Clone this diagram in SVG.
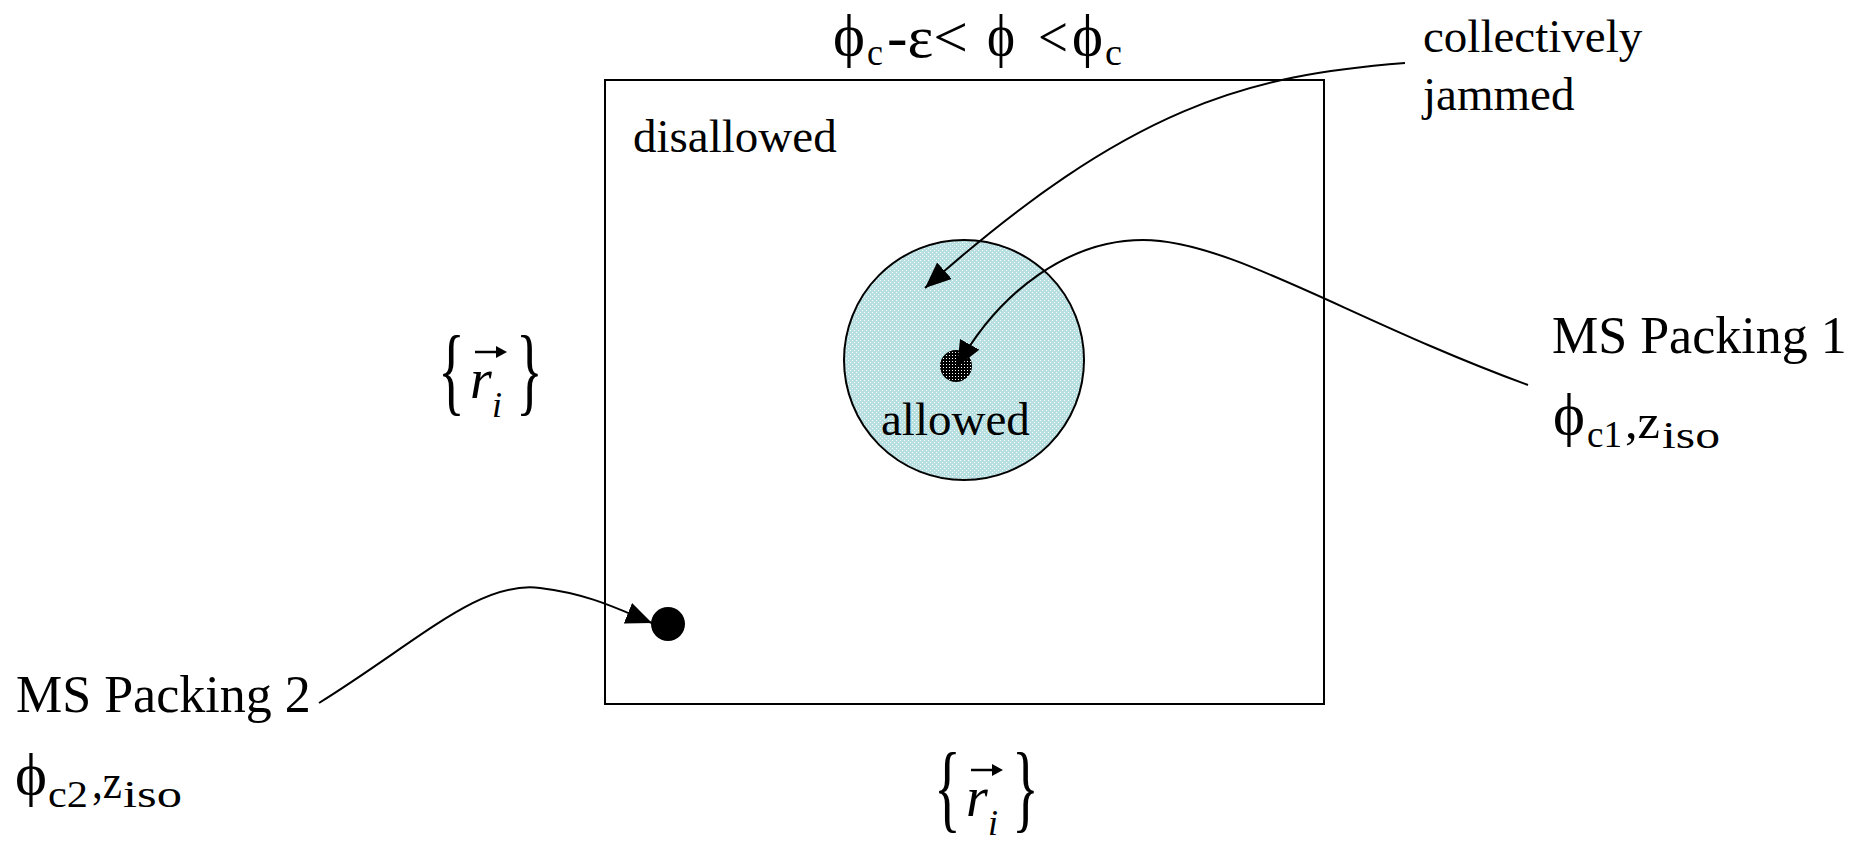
<svg xmlns="http://www.w3.org/2000/svg" width="1867" height="841" viewBox="0 0 1867 841">
<style>
text{font-family:"Liberation Serif","DejaVu Serif",serif;fill:#000}
.t47{font-size:47px}
.t52{font-size:52px}
.phi{font-size:60px}
.sub{font-size:38px}
.big{font-size:60px}
.zz{font-size:48px}
.it{font-style:italic}
.conn{fill:none;stroke:#000;stroke-width:2}
</style>
<defs>
<pattern id="cyan" width="4" height="4" patternUnits="userSpaceOnUse">
<rect width="4" height="4" fill="#b7dfe1"/>
<rect x="0" y="0" width="1" height="1" fill="#ffffff"/>
<rect x="2" y="2" width="1" height="1" fill="#ffffff"/>
</pattern>
<pattern id="dark" width="3" height="3" patternUnits="userSpaceOnUse">
<rect width="3" height="3" fill="#000"/>
<rect x="1" y="1" width="1" height="1" fill="#ffffff"/>
</pattern>
<marker id="ah" markerUnits="userSpaceOnUse" markerWidth="28" markerHeight="24" refX="26" refY="11" orient="auto">
<path d="M0,0 L26,11 L0,22 Z" fill="#000"/>
</marker>
</defs>

<g id="space">
<rect x="605" y="80" width="719" height="624" fill="none" stroke="#000" stroke-width="2"/>
<text class="t47" x="633" y="152">disallowed</text>
</g>

<g id="allowed-region">
<circle cx="964" cy="360" r="120" fill="url(#cyan)" stroke="#000" stroke-width="2"/>
<text class="t47" x="881" y="435">allowed</text>
</g>

<g id="packing1-point">
<circle cx="956" cy="366" r="16" fill="url(#dark)"/>
</g>

<g id="packing2-point">
<circle cx="668" cy="624" r="17" fill="#000"/>
</g>

<g id="title">
<text class="t52" y="57"><tspan class="phi" x="833" y="55" textLength="32" lengthAdjust="spacingAndGlyphs">ϕ</tspan><tspan class="sub" x="867" y="65" textLength="16" lengthAdjust="spacingAndGlyphs">c</tspan><tspan class="big" x="887" y="57" textLength="81" lengthAdjust="spacingAndGlyphs">-ε&lt;</tspan> <tspan class="phi" x="987" y="55" textLength="28" lengthAdjust="spacingAndGlyphs">ϕ</tspan> <tspan class="big" x="1038" y="57" textLength="30" lengthAdjust="spacingAndGlyphs">&lt;</tspan><tspan class="phi" x="1072" y="55" textLength="31" lengthAdjust="spacingAndGlyphs">ϕ</tspan><tspan class="sub" x="1105" y="65" textLength="17" lengthAdjust="spacingAndGlyphs">c</tspan></text>
</g>

<g id="label-jammed">
<text class="t47" x="1423" y="52">collectively</text>
<text class="t47" x="1423" y="110">jammed</text>
</g>

<g id="label-ms1">
<text class="t52" x="1552" y="353">MS Packing 1</text>
<text class="t52" y="434"><tspan class="phi" x="1553" y="434" textLength="32" lengthAdjust="spacingAndGlyphs">ϕ</tspan><tspan class="sub" x="1587" y="447" textLength="35" lengthAdjust="spacingAndGlyphs">c1</tspan><tspan class="zz" x="1625" y="438" textLength="35" lengthAdjust="spacingAndGlyphs">,z</tspan><tspan x="1662" y="448" font-size="38" textLength="58" lengthAdjust="spacingAndGlyphs">iso</tspan></text>
</g>

<g id="label-ms2">
<text class="t52" x="16" y="712">MS Packing 2</text>
<text class="t52" y="794"><tspan class="phi" x="15" y="794" textLength="32" lengthAdjust="spacingAndGlyphs">ϕ</tspan><tspan class="sub" x="48" y="807" textLength="40" lengthAdjust="spacingAndGlyphs">c2</tspan><tspan class="zz" x="92" y="798" textLength="30" lengthAdjust="spacingAndGlyphs">,z</tspan><tspan x="123" y="807" font-size="38" textLength="59" lengthAdjust="spacingAndGlyphs">iso</tspan></text>
</g>

<g id="axis-left">
<text x="0" y="0" font-size="56" transform="translate(438,403) scale(1,1.75)">{</text>
<text class="it" x="470" y="398" font-size="56">r</text>
<text class="it" x="492" y="417" font-size="36">i</text>
<line x1="475" y1="352" x2="500" y2="352" stroke="#000" stroke-width="2.5"/>
<path d="M496,346 L507,352 L496,358 Z" fill="#000"/>
<text x="0" y="0" font-size="56" transform="translate(516,403) scale(1,1.75)">}</text>
</g>

<g id="axis-bottom">
<text x="0" y="0" font-size="56" transform="translate(934,820) scale(1,1.75)">{</text>
<text class="it" x="966" y="816" font-size="56">r</text>
<text class="it" x="988" y="835" font-size="36">i</text>
<line x1="971" y1="770" x2="996" y2="770" stroke="#000" stroke-width="2.5"/>
<path d="M992,764 L1003,770 L992,776 Z" fill="#000"/>
<text x="0" y="0" font-size="56" transform="translate(1012,820) scale(1,1.75)">}</text>
</g>

<g id="connectors">
<path class="conn" d="M1405,63 C1250,75 1130,105 925,288" marker-end="url(#ah)"/>
<path class="conn" d="M1528,385 C1350,320 1230,240 1143,240 C1070,240 1000,290 957,367" marker-end="url(#ah)"/>
<path class="conn" d="M319,703 C420,640 480,580 540,588 C590,594 620,610 652,623" marker-end="url(#ah)"/>
</g>
</svg>
